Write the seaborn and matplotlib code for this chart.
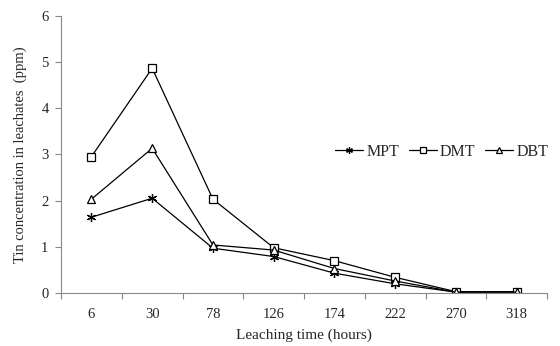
import matplotlib
matplotlib.use("Agg")
import matplotlib.pyplot as plt
import seaborn as sns
import pandas as pd
import numpy as np

hours = ["6", "30", "78", "126", "174", "222", "270", "318"]
mpt = [1.64, 2.05, 0.97, 0.79, 0.43, 0.20, 0.02, 0.02]
dmt = [2.95, 4.86, 2.03, 0.98, 0.70, 0.34, 0.03, 0.03]
dbt = [2.03, 3.13, 1.04, 0.93, 0.53, 0.26, 0.02, 0.02]
series = ["MPT", "DMT", "DBT"]

sns.set_theme(style="white")
plt.rcParams["font.family"] = ["Liberation Serif", "DejaVu Serif"]

rows = []
for name, vals in zip(series, [mpt, dmt, dbt]):
    for i, v in enumerate(vals):
        rows.append({"pos": i, "val": v, "series": name})
df = pd.DataFrame(rows)

fig = plt.figure(figsize=(5.6, 3.46), dpi=100)
ax = fig.add_axes([0.109, 0.153, 0.868, 0.802])

markers = {"MPT": (6, 2, 0), "DMT": "s", "DBT": "^"}
for name in series:
    sub = df[df["series"] == name]
    sns.lineplot(data=sub, x="pos", y="val", ax=ax, color="black", lw=0.9,
                 marker=markers[name], markersize=5.5 if name != "MPT" else 6.5,
                 markerfacecolor="white" if name != "MPT" else "black",
                 markeredgecolor="black", markeredgewidth=0.9, label=name)

ax.set_xlim(-0.5, 7.5)
ax.set_ylim(0, 6)
ax.set_yticks(range(0, 7))
ax.set_xticks(range(len(hours)))
ax.set_xticklabels(hours)
ax.set_xticks(np.arange(-0.5, 8.0, 1.0), minor=True)
ax.tick_params(axis="x", which="major", length=0, pad=11, labelsize=10.5)
ax.tick_params(axis="x", which="minor", length=4, width=0.8, color="#888888", direction="out")
ax.tick_params(axis="y", length=4, width=0.8, color="#888888", direction="out", labelsize=10.5, pad=5)
ax.xaxis.set_ticks_position("bottom")
ax.yaxis.set_ticks_position("left")

for s in ["top", "right"]:
    ax.spines[s].set_visible(False)
for s in ["left", "bottom"]:
    ax.spines[s].set_color("#888888")
    ax.spines[s].set_linewidth(0.8)

ax.set_xlabel("Leaching time (hours)", fontsize=11, labelpad=5)
ax.set_ylabel("Tin concentration in leachates  (ppm)", fontsize=10.5, labelpad=10)

leg = ax.legend(loc="center left", bbox_to_anchor=(0.535, 0.51), ncol=3, frameon=False,
                fontsize=11.5, handlelength=1.75, handletextpad=0.2, columnspacing=0.6,
                markerscale=0.75)

fig.savefig("out.png", dpi=100)
